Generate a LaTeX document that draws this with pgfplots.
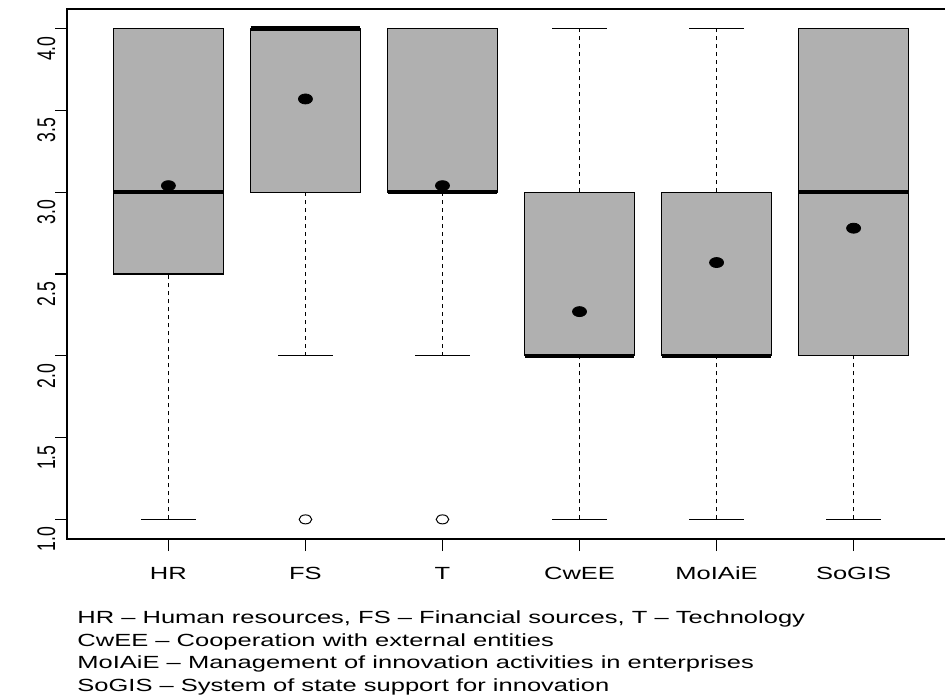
\documentclass[border=0pt]{standalone}
\usepackage{fontspec}
\setmainfont{Liberation Sans}[FakeStretch=1.45]
\newfontfamily\yfont{Liberation Sans}[FakeStretch=0.69]
\usepackage{pgfplots}
\pgfplotsset{compat=1.18}
\usepgfplotslibrary{statistics}
\definecolor{boxgray}{RGB}{176,176,176}
\pgfplotsset{
  rbox/.style={
    boxplot prepared={#1, box extend=0.8, whisker extend=0.4},
    fill=boxgray, draw=black, line width=0.6pt, solid, mark=none,
    boxplot/every median/.style={line width=2.2pt},
    boxplot/draw/lower whisker/.code={
      \draw[fill=none, dash pattern=on 2pt off 2pt, line width=0.6pt]
        (boxplot cs:\pgfplotsboxplotvalue{lower whisker}) --
        (boxplot cs:\pgfplotsboxplotvalue{lower quartile});
      \draw[fill=none, solid, line width=0.6pt]
        (boxplot whisker cs:\pgfplotsboxplotvalue{lower whisker},0) --
        (boxplot whisker cs:\pgfplotsboxplotvalue{lower whisker},1);
    },
    boxplot/draw/upper whisker/.code={
      \draw[fill=none, dash pattern=on 2pt off 2pt, line width=0.6pt]
        (boxplot cs:\pgfplotsboxplotvalue{upper quartile}) --
        (boxplot cs:\pgfplotsboxplotvalue{upper whisker});
      \draw[fill=none, solid, line width=0.6pt]
        (boxplot whisker cs:\pgfplotsboxplotvalue{upper whisker},0) --
        (boxplot whisker cs:\pgfplotsboxplotvalue{upper whisker},1);
    },
  }
}
\begin{document}
\begin{tikzpicture}
\begin{axis}[
  at={(33.5pt,78pt)}, anchor=south west,
  scale only axis, width=444pt, height=265pt,
  xmin=0.26, xmax=6.74, ymin=0.88, ymax=4.12,
  boxplot/draw direction=y,
  xtick={1,2,3,4,5,6},
  xticklabels={HR,FS,T,CwEE,MoIAiE,SoGIS},
  ytick={1,1.5,2,2.5,3,3.5,4},
  yticklabels={1.0,1.5,2.0,2.5,3.0,3.5,4.0},
  tick align=outside, xtick pos=bottom, ytick pos=left,
  major tick length=6pt,
  tick style={black, line width=0.6pt},
  axis line style={black, line width=0.6pt},
  xticklabel style={font=\fontsize{8.8}{10}\selectfont, anchor=base, inner sep=0pt, yshift=-14pt},
  yticklabel style={font=\yfont\fontsize{12.76}{14}\selectfont, rotate=90, anchor=base, inner sep=0pt, xshift=-10pt},
]
\addplot[rbox={draw position=1, lower whisker=1, lower quartile=2.5, median=3, upper quartile=4, upper whisker=4}] coordinates {};
\addplot[rbox={draw position=2, lower whisker=2, lower quartile=3, median=4, upper quartile=4, upper whisker=4}] coordinates {};
\addplot[rbox={draw position=3, lower whisker=2, lower quartile=3, median=3, upper quartile=4, upper whisker=4}] coordinates {};
\addplot[rbox={draw position=4, lower whisker=1, lower quartile=2, median=2, upper quartile=3, upper whisker=4}] coordinates {};
\addplot[rbox={draw position=5, lower whisker=1, lower quartile=2, median=2, upper quartile=3, upper whisker=4}] coordinates {};
\addplot[rbox={draw position=6, lower whisker=1, lower quartile=2, median=3, upper quartile=4, upper whisker=4}] coordinates {};
% means
\addplot[only marks, mark=*, mark size=2.5pt, mark options={xscale=1.4, fill=black, draw=black}]
  coordinates {(1,3.04) (2,3.57) (3,3.04) (4,2.27) (5,2.57) (6,2.78)};
% outliers
\addplot[only marks, mark=o, mark size=2.25pt, mark options={xscale=1.4, draw=black, line width=0.5pt}]
  coordinates {(2,1) (3,1)};
\end{axis}
\begin{scope}[every node/.style={anchor=base west, inner sep=0pt, font=\fontsize{8.8}{10}\selectfont}]
\node at (38.5pt,36pt) {HR – Human resources, FS – Financial sources, T – Technology};
\node at (38.5pt,24.5pt) {CwEE – Cooperation with external entities};
\node at (38.5pt,13.25pt) {MoIAiE – Management of innovation activities in enterprises};
\node at (38.5pt,2pt) {SoGIS – System of state support for innovation};
\end{scope}
\pgfresetboundingbox
\useasboundingbox (0,0) rectangle (472.5pt,347.5pt);
\end{tikzpicture}
\end{document}
